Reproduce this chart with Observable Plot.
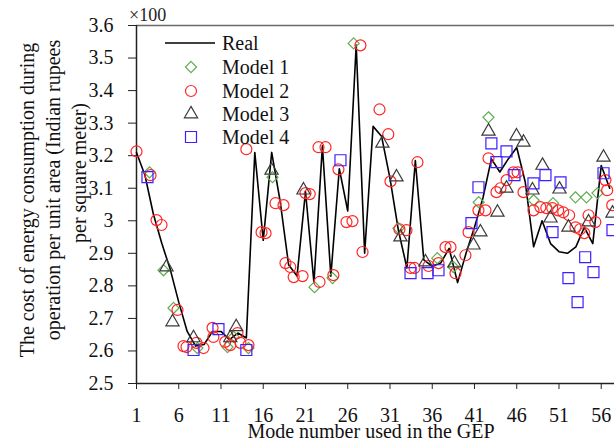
<!DOCTYPE html>
<html>
<head>
<meta charset="utf-8">
<script src="https://cdn.jsdelivr.net/npm/d3@7"></script>
<script src="https://cdn.jsdelivr.net/npm/@observablehq/plot@0.6"></script>
<style>
  html, body { margin: 0; padding: 0; background: #fff; }
  #chart { width: 614px; height: 442px; overflow: hidden; }
  #chart svg text { font-family: "Liberation Serif", "Times New Roman", Times, "DejaVu Serif", serif !important; }
</style>
</head>
<body>
<div id="chart"></div>
<script>
// ---- data ----
const xTicks = [1, 6, 11, 16, 21, 26, 31, 36, 41, 46, 51, 56];
const yTicks = [2.5, 2.6, 2.7, 2.8, 2.9, 3.0, 3.1, 3.2, 3.3, 3.4, 3.5, 3.6];

const realValues = [3.21, 3.14, 3.02, 2.93, 2.85, 2.75, 2.66, 2.615, 2.62, 2.66,
  2.66, 2.635, 2.655, 2.64, 3.21, 2.94, 3.21, 3.06, 2.865, 2.83,
  3.09, 2.81, 3.23, 2.83, 3.16, 3.03, 3.54, 2.9, 3.29, 3.26,
  3.13, 2.97, 2.855, 3.185, 2.88, 2.86, 2.87, 2.915, 2.81, 2.9,
  2.98, 3.07, 3.19, 3.15, 3.19, 3.225, 3.12, 2.92, 3.0, 2.93,
  2.905, 2.9, 2.92, 2.98, 2.93, 3.17, 3.1];

const m1Mode = [2.54, 4.2, 5.38, 8.2, 11.77, 12.5, 14.25, 17.1, 22.07, 24.2, 26.7, 32.0, 36.6, 38.5, 41.5, 42.66, 48.0, 50.3, 52.95, 54.25, 55.56];
const m1Value = [3.149, 2.848, 2.732, 2.609, 2.612, 2.643, 2.609, 3.134, 2.796, 2.824, 3.545, 2.977, 2.885, 2.858, 3.057, 3.318, 3.063, 3.054, 3.072, 3.072, 3.085];

const m2Mode = [1.0, 2.66, 3.37, 3.96, 5.85, 6.56, 6.92, 8.1, 8.93, 10.0, 10.1, 11.5, 12.1, 12.95, 13.3, 14.25, 14.0, 15.8, 16.27, 17.45,
  18.4, 18.63, 19.2, 19.6, 20.65, 21.0, 21.5, 22.66, 22.54, 23.37, 24.3, 24.9, 25.85, 26.56, 27.5, 27.75, 29.76, 30.8, 31.06, 32.12,
  32.95, 33.43, 33.9, 34.25, 35.56, 36.74, 37.57, 38.16, 38.75, 39.93, 40.3, 41.47, 42.3, 42.66, 43.6, 44.08, 44.8, 45.6, 46.1, 46.8,
  47.98, 48.8, 49.5, 50.2, 50.9, 51.5, 52.2, 52.95, 53.5, 54.0, 54.5, 55.3, 56.5, 56.7, 57.3];
const m2Value = [3.213, 3.14, 3.002, 2.987, 2.726, 2.615, 2.612, 2.625, 2.609, 2.671, 2.643, 2.628, 2.618, 2.655, 2.625, 2.618, 3.22, 2.965, 2.962, 3.054,
  3.048, 2.87, 2.858, 2.827, 2.83, 3.085, 3.082, 2.812, 3.226, 3.226, 2.833, 3.158, 2.996, 2.999, 3.539, 2.904, 3.342, 3.266, 3.121, 2.974,
  2.971, 2.855, 2.855, 3.18, 2.861, 2.87, 2.919, 2.919, 2.839, 2.894, 2.965, 3.032, 3.032, 3.192, 3.088, 3.1, 3.125, 3.149, 3.149, 3.088,
  3.032, 3.042, 3.039, 3.039, 3.032, 3.026, 3.017, 2.98, 2.974, 2.962, 3.017, 2.996, 3.125, 3.094, 3.048];

const m3Mode = [4.55, 5.26, 7.75, 12.1, 12.8, 16.98, 20.76, 30.1, 31.77, 32.24, 35.2, 38.63, 40.88, 41.7, 42.66, 43.72, 44.79, 45.97, 46.8, 47.86, 49.05, 50.0, 51.06, 52.12, 54.5, 56.27, 57.33];
const m3Value = [2.858, 2.689, 2.64, 2.64, 2.674, 3.155, 3.094, 3.238, 3.134, 2.95, 2.873, 2.87, 2.925, 2.965, 3.275, 3.026, 3.1, 3.26, 3.241, 3.094, 3.17, 3.008, 3.097, 2.98, 2.996, 3.195, 3.023];

const m4Mode = [2.3, 7.75, 10.7, 14.0, 25.14, 33.43, 35.44, 36.74, 40.64, 41.47, 43.0, 43.6, 44.79, 45.73, 47.98, 49.4, 50.23, 51.18, 52.12, 53.2, 54.1, 55.08, 56.27, 57.33];
const m4Value = [3.134, 2.603, 2.667, 2.603, 3.186, 2.839, 2.839, 2.848, 2.993, 3.103, 3.238, 3.18, 3.213, 3.14, 3.115, 3.14, 2.965, 3.118, 2.824, 2.75, 2.888, 2.842, 3.146, 2.971];

const legendLabels = ["Real", "Model 1", "Model 2", "Model 3", "Model 4"];
const yTitleLines = ["The cost of energy consumption during", "operation per unit area (Indian rupees", "per square meter)"];
const xTitle = "Mode number used in the GEP";
const yMultiplier = "\u00d7100";

// ---- build ----
const real = realValues.map((v, k) => ({mode: k + 1, value: v}));
const zip = (ms, vs) => ms.map((m, k) => ({mode: m, value: vs[k]}));
const m1 = zip(m1Mode, m1Value), m2 = zip(m2Mode, m2Value), m3 = zip(m3Mode, m3Value), m4 = zip(m4Mode, m4Value);

const colors = {real: "#000000", m1: "#62ad52", m2: "#ff2626", m3: "#3a3a3a", m4: "#3d1fff"};
const font = '"Liberation Serif", "Times New Roman", Times, "DejaVu Serif", serif';

const svg = Plot.plot({
  width: 614,
  height: 442,
  marginLeft: 136,
  marginRight: 0,
  marginTop: 25,
  marginBottom: 59,
  style: {fontFamily: font, fontSize: "20px", background: "#fff", overflow: "hidden"},
  x: {domain: [1, 57.57]},
  y: {domain: [2.5, 3.6]},
  marks: [
    Plot.ruleY([3.6], {stroke: "#6a6a6a", strokeWidth: 1.5}),
    Plot.axisY({ticks: yTicks, tickSize: 8, tickPadding: 15, fontSize: 20, fill: "#111", stroke: "#222",
      tickFormat: d => (Math.abs(d - 3) < 1e-9 ? "3" : d.toFixed(1)), label: null}),
    Plot.axisX({ticks: xTicks, tickSize: 6, tickPadding: 18, fontSize: 20, fill: "#111", stroke: "#222",
      tickFormat: d => String(d), label: null}),
    Plot.ruleX([1], {stroke: "#222", strokeWidth: 1.5}),
    Plot.ruleY([2.5], {stroke: "#222", strokeWidth: 1.5}),
    Plot.line(real, {x: "mode", y: "value", stroke: colors.real, strokeWidth: 1.6}),
    Plot.dot(m1, {x: "mode", y: "value", symbol: "diamond2", r: 5, stroke: colors.m1, fill: "none", strokeWidth: 1.2}),
    Plot.dot(m2, {x: "mode", y: "value", symbol: "circle", r: 5.5, stroke: colors.m2, fill: "none", strokeWidth: 1.2}),
    Plot.dot(m3, {x: "mode", y: "value", symbol: "triangle2", r: 6.3, stroke: colors.m3, fill: "none", strokeWidth: 1.2}),
    Plot.dot(m4, {x: "mode", y: "value", symbol: "square2", r: 7, stroke: colors.m4, fill: "none", strokeWidth: 1.2})
  ]
});

const s = d3.select(svg);
// multiplier
s.append("text").attr("x", 129).attr("y", 21).attr("text-anchor", "start").attr("font-size", 18)
  .attr("fill", "#222").text(yMultiplier);
// y title
const yCenters = [[27, 200], [53, 190], [79, 173]];
yTitleLines.forEach((t, k) => {
  s.append("text").attr("transform", `translate(${yCenters[k][0]},${yCenters[k][1]}) rotate(-90)`)
    .attr("text-anchor", "middle").attr("dominant-baseline", "central")
    .attr("font-size", 20).attr("fill", "#111").text(t);
});
// x title
s.append("text").attr("x", 371).attr("y", 438).attr("text-anchor", "middle")
  .attr("font-size", 20).attr("fill", "#111").text(xTitle);

// legend
const lg = s.append("g");
const rowsY = [43, 67, 91, 114, 137];
lg.append("line").attr("x1", 165).attr("x2", 215).attr("y1", rowsY[0]).attr("y2", rowsY[0])
  .attr("stroke", colors.real).attr("stroke-width", 1.6);
const syms = [
  [d3.symbolDiamond2, 5, colors.m1],
  [d3.symbolCircle, 5.5, colors.m2],
  [d3.symbolTriangle2, 6.3, colors.m3],
  [d3.symbolSquare2, 7, colors.m4]
];
syms.forEach(([sym, r, c], k) => {
  lg.append("path").attr("d", d3.symbol(sym, Math.PI * r * r)())
    .attr("transform", `translate(191,${rowsY[k + 1]})`)
    .attr("fill", "none").attr("stroke", c).attr("stroke-width", 1.2);
});
legendLabels.forEach((t, k) => {
  lg.append("text").attr("x", 222).attr("y", rowsY[k]).attr("text-anchor", "start").attr("dominant-baseline", "central")
    .attr("font-size", 20).attr("fill", "#111").text(t);
});

document.getElementById("chart").appendChild(svg);
</script>
</body>
</html>
